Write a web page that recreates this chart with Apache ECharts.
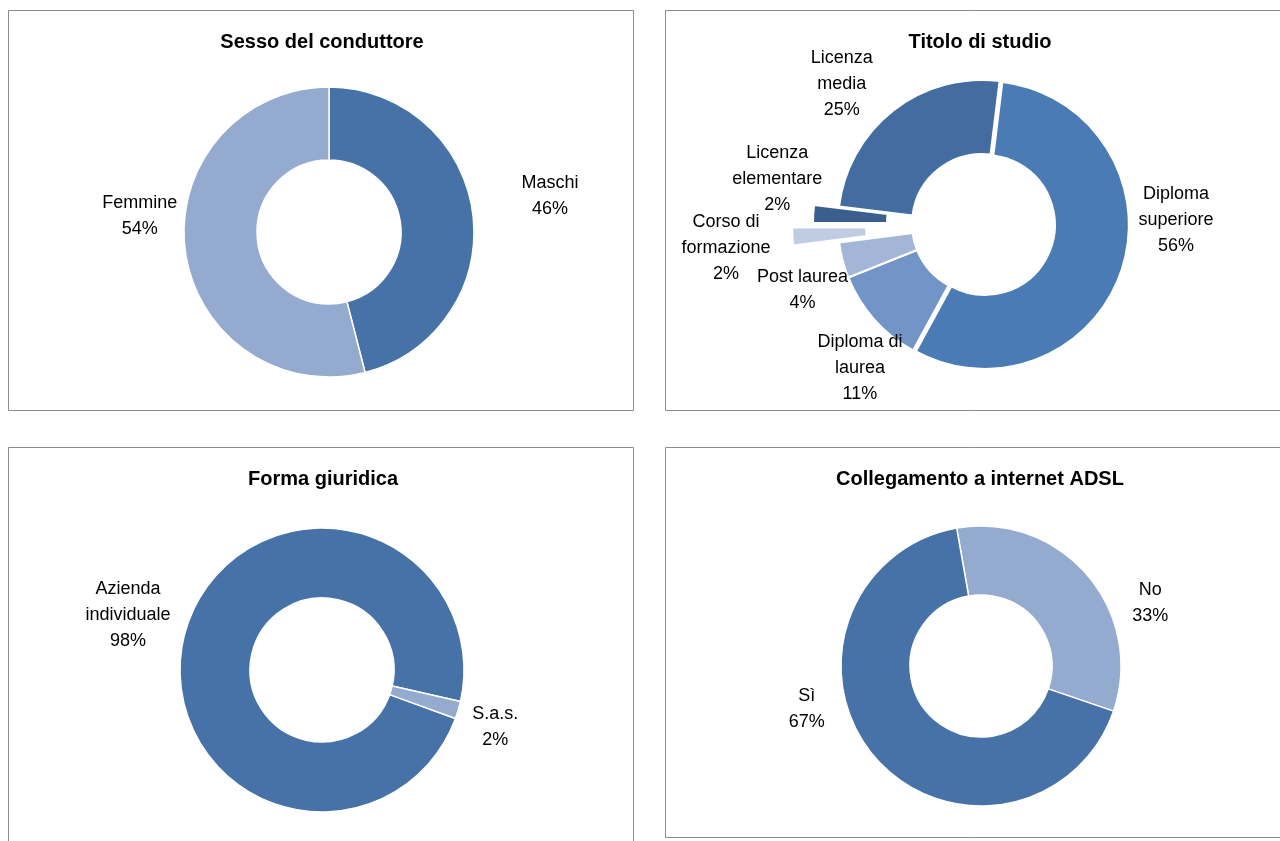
<!DOCTYPE html>
<html>
<head>
<meta charset="utf-8">
<script src="https://cdn.jsdelivr.net/npm/echarts@6/dist/echarts.min.js"></script>
<style>
  html, body { margin: 0; padding: 0; background: #ffffff; }
  #chart { width: 1280px; height: 841px; }
</style>
</head>
<body>
<div id="chart"></div>
<script>
// ---- Data ----
// Sesso del conduttore
const sessoLabels = ['Maschi', 'Femmine'];
const sessoValues = [46, 54];
// Titolo di studio
const studioLabels = ['Diploma\nsuperiore', 'Diploma di\nlaurea', 'Post laurea', 'Corso di\nformazione', 'Licenza\nelementare', 'Licenza\nmedia'];
const studioValues = [56, 11, 4, 2, 2, 25];
// Forma giuridica
const formaLabels = ['Azienda\nindividuale', 'S.a.s.'];
const formaValues = [98, 2];
// Collegamento a internet ADSL
const adslLabels = ['No', 'Sì'];
const adslValues = [33, 67];

// ---- Styling ----
const FONT = "'Liberation Sans', Arial, Helvetica, sans-serif";
const DARK = '#4672A7';
const LIGHT = '#95AACF';
const studioColors = ['#4A7BB5', '#7394C6', '#A3B6D8', '#C0CCE2', '#3A5F8F', '#436DA0'];
const CLEAR = 'rgba(0,0,0,0)';

// Places each label on a ray from the donut centre, starting at the slice's mid angle.
function placeLabels(values, startAngle, cx, cy, dist, turn) {
  const total = values.reduce((a, b) => a + b, 0);
  const mids = [];
  let acc = 0;
  values.forEach(v => { mids.push(startAngle - (acc + v / 2) / total * 360); acc += v; });
  return function (p) {
    const i = p.dataIndex;
    const a = (mids[i] + turn[i]) * Math.PI / 180;
    return {
      x: cx + dist[i] * Math.cos(a),
      y: cy - dist[i] * Math.sin(a) + 1.5,
      align: 'center',
      verticalAlign: 'middle'
    };
  };
}

const labelStyle = {
  show: true,
  position: 'outside',
  color: '#000000',
  fontFamily: FONT,
  fontSize: 18,
  lineHeight: 26,
  formatter: p => p.name + '\n' + p.value + '%'
};

function donut(opts) {
  return Object.assign({
    type: 'pie',
    clockwise: true,
    avoidLabelOverlap: false,
    silent: true,
    emphasis: { disabled: true },
    labelLine: { show: false },
    label: labelStyle,
    itemStyle: { borderColor: '#ffffff', borderWidth: 1.5 }
  }, opts);
}

// ---- Panel geometry ----
const P1 = { cx: 329, cy: 232, start: 90 };
const P2 = { cx: 982, cy: 224, start: 83 };
const P3 = { cx: 322, cy: 670, start: 340 };
const P4 = { cx: 981, cy: 666, start: 100 };

const series = [];

// Sesso del conduttore
series.push(donut({
  center: [P1.cx, P1.cy], radius: [72, 145], startAngle: P1.start,
  labelLayout: placeLabels(sessoValues, P1.start, P1.cx, P1.cy, [224, 190], [2.3, -12.6]),
  data: sessoValues.map((v, i) => ({ name: sessoLabels[i], value: v, itemStyle: { color: [DARK, LIGHT][i] } }))
}));

// Titolo di studio: base ring plus separately exploded slices
const explodedBy = [3, 0, 0, 46, 25, 0];
series.push(donut({
  center: [P2.cx, P2.cy], radius: [70, 144], startAngle: P2.start,
  itemStyle: { borderColor: '#ffffff', borderWidth: 2 },
  labelLayout: placeLabels(studioValues, P2.start, P2.cx, P2.cy,
    [194, 188, 191, 257, 210, 199], [19.3, 7.9, 5.3, 1.3, -9.5, 6.8]),
  data: studioValues.map((v, i) => ({
    name: studioLabels[i], value: v,
    itemStyle: explodedBy[i] ? { color: CLEAR, borderWidth: 0 } : { color: studioColors[i] }
  }))
}));
explodedBy.forEach((off, k) => {
  if (!off) return;
  series.push(donut({
    center: [P2.cx, P2.cy], radius: [70, 144], startAngle: P2.start,
    selectedMode: 'multiple', selectedOffset: off,
    itemStyle: { borderColor: '#ffffff', borderWidth: 2 },
    label: { show: false },
    data: studioValues.map((v, i) => ({
      name: studioLabels[i], value: v, selected: i === k,
      itemStyle: i === k ? { color: studioColors[i] } : { color: CLEAR, borderWidth: 0 }
    }))
  }));
});

// Forma giuridica
series.push(donut({
  center: [P3.cx, P3.cy], radius: [72, 142], startAngle: P3.start,
  labelLayout: placeLabels(formaValues, P3.start, P3.cx, P3.cy, [202, 182], [0.3, -1.5]),
  data: formaValues.map((v, i) => ({ name: formaLabels[i], value: v, itemStyle: { color: [DARK, LIGHT][i] } }))
}));

// Collegamento a internet ADSL
series.push(donut({
  center: [P4.cx, P4.cy], radius: [71, 140], startAngle: P4.start,
  labelLayout: placeLabels(adslValues, P4.start, P4.cx, P4.cy, [181, 179], [-19.9, -27.3]),
  data: adslValues.map((v, i) => ({ name: adslLabels[i], value: v, itemStyle: { color: [LIGHT, DARK][i] } }))
}));

// Panel frames and titles
const frames = [
  [8.5, 10.5, 625, 400],
  [665.5, 10.5, 640, 400],
  [8.5, 447.5, 625, 420],
  [665.5, 447.5, 640, 390]
].map(r => ({
  type: 'rect', silent: true,
  shape: { x: r[0], y: r[1], width: r[2], height: r[3] },
  style: { fill: null, stroke: '#8C8C8C', lineWidth: 1 }
}));

const titles = [
  ['Sesso del conduttore', 322, 42],
  ['Titolo di studio', 980, 42],
  ['Forma giuridica', 323, 479],
  ['Collegamento a internet ADSL', 980, 479]
].map(t => ({
  type: 'text', silent: true, x: t[1], y: t[2],
  style: {
    text: t[0], fill: '#000000', font: 'bold 20px ' + FONT,
    align: 'center', verticalAlign: 'middle'
  }
}));

const chart = echarts.init(document.getElementById('chart'), null, { renderer: 'canvas' });
chart.setOption({
  backgroundColor: '#ffffff',
  animation: false,
  series: series,
  graphic: frames.concat(titles)
});
</script>
</body>
</html>
